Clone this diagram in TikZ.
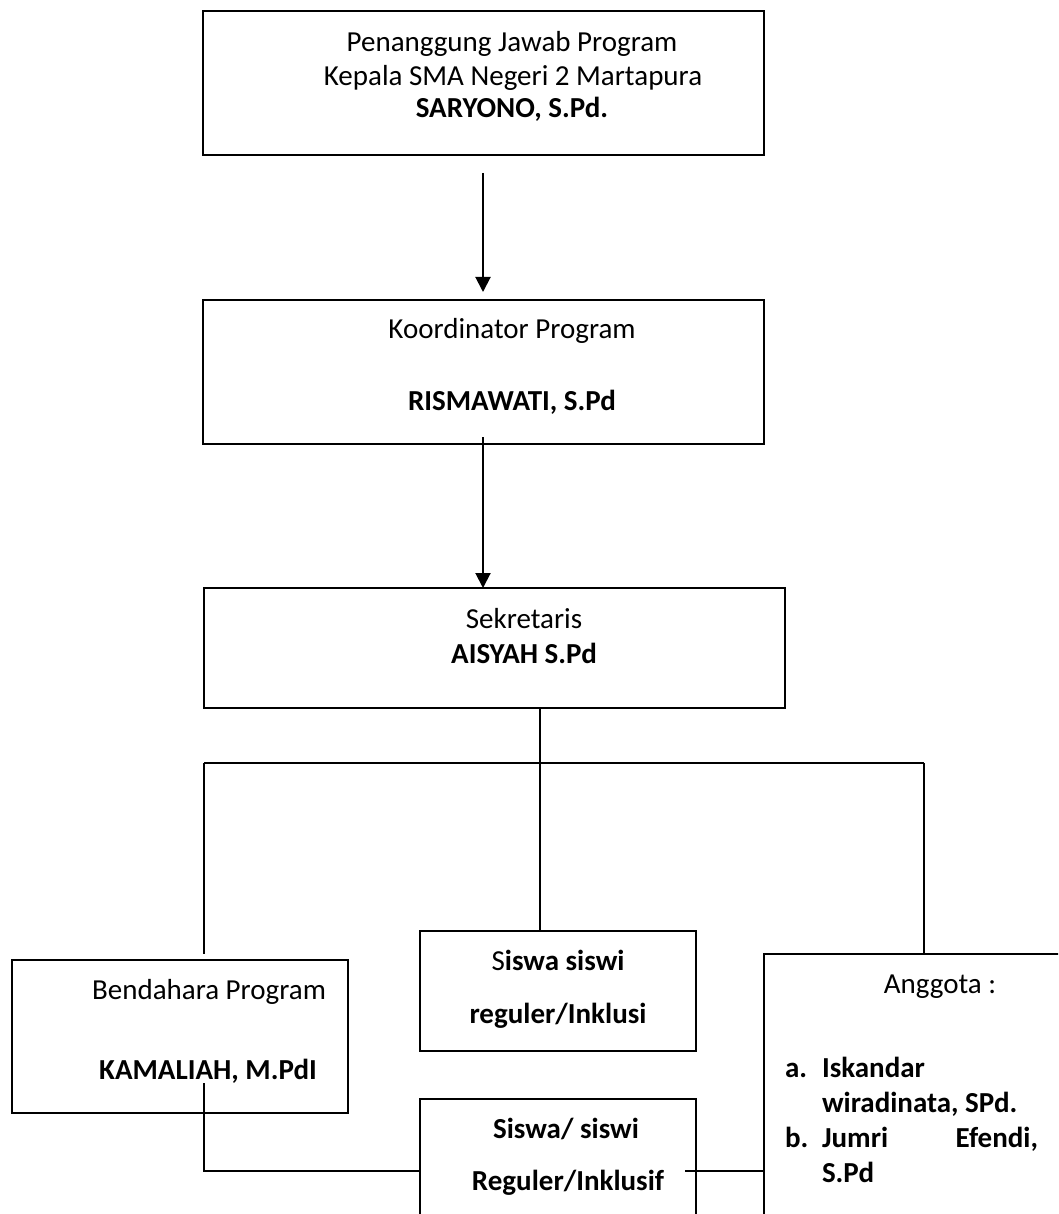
\documentclass[tikz,border=0pt]{standalone}
\usepackage{fontspec}
\setmainfont{Carlito}
\usetikzlibrary{arrows.meta}
\begin{document}
\begin{tikzpicture}[x=1pt,y=-1pt,
  box/.style={draw, line width=2pt, inner sep=0pt, outer sep=0pt, rectangle},
  txt/.style={anchor=base, inner sep=0pt, outer sep=0pt, font=\fontsize{29}{34}\selectfont},
  btxt/.style={txt, font=\fontsize{29}{34}\selectfont\bfseries},
  conn/.style={line width=1.5pt},
  arr/.style={line width=2pt, -{Triangle[length=15pt,width=15pt]}}]
\useasboundingbox (0,0) rectangle (1058,1214);
\fill[white] (0,0) rectangle (1058,1214);
\clip (0,0) rectangle (1058,1214);

% boxes
\node[box, minimum width=561pt, minimum height=144.5pt] (pj) at (483.5,83.25) {};
\node[box, minimum width=561pt, minimum height=144pt] (ko) at (483.5,372) {};
\node[box, minimum width=581pt, minimum height=119.5pt] (sk) at (494.5,647.75) {};
\node[box, minimum width=336pt, minimum height=153pt] (be) at (180,1036.5) {};
\node[box, minimum width=276pt, minimum height=120pt] (si1) at (558,991) {};
\node[box, minimum width=276.5pt, minimum height=141pt] (si2) at (558,1169.5) {};
\node[box, minimum width=352pt, minimum height=306pt] (an) at (940,1107) {};

% texts
\node[txt] (t1a) at (512,52) {Penanggung Jawab Program};
\node[txt] (t1b) at (513,86) {Kepala SMA Negeri 2 Martapura};
\node[btxt] (t1c) at (512,118) {SARYONO, S.Pd.};
\node[txt] (t2a) at (512,338) {Koordinator Program};
\node[btxt] (t2b) at (512,410) {RISMAWATI, S.Pd};
\node[txt] (t3a) at (524,628) {Sekretaris};
\node[btxt] (t3b) at (524,663) {AISYAH S.Pd};
\node[txt] (t4a) at (209,999) {Bendahara Program};
\node[btxt] (t4b) at (208,1079) {KAMALIAH, M.PdI};
\node[btxt] (t5a) at (558,970) {\textmd{S}iswa siswi};
\node[btxt] (t5b) at (558,1023) {reguler/Inklusi};
\node[btxt] (t6a) at (566,1138) {Siswa/ siswi};
\node[btxt] (t6b) at (568,1190) {Reguler/Inklusif};
\node[txt] (t7a) at (940,993) {Anggota :};
\node[btxt, anchor=base west] (t7b) at (785,1077) {a.};
\node[btxt, anchor=base west] (t7c) at (822,1077) {Iskandar};
\node[btxt, anchor=base west] (t7d) at (822,1112) {wiradinata, SPd.};
\node[btxt, anchor=base west] (t7e) at (785,1147) {b.};
\node[btxt, anchor=base west] (t7f) at (822,1147) {Jumri};
\node[btxt, anchor=base east] (t7g) at (1038,1147) {Efendi,};
\node[btxt, anchor=base west] (t7h) at (822,1182) {S.Pd};

% connectors
\coordinate (a1s) at (483,173);
\draw[arr, shorten >=8pt] (a1s) -- (a1s |- ko.north);
\coordinate (a2s) at (483,437);
\draw[arr] (a2s) -- (a2s |- sk.north);

\coordinate (tc) at (540,763);
\coordinate (hl) at (204,763);
\coordinate (hr) at (924,763);
\draw[conn] (tc |- sk.south) -- (tc |- si1.north);
\draw[conn] (hl) -- (hr);
\draw[conn, shorten >=6pt] (hl) -- (hl |- be.north);
\draw[conn] (hr) -- (hr |- an.north);

\coordinate (bs) at (204,1083);
\coordinate (bl) at (204,1171);
\draw[conn] (bs) -- (bl) -- (bl -| si2.west);
\coordinate (rs) at (685,1171);
\draw[conn] (rs) -- (rs -| an.west);
\end{tikzpicture}
\end{document}
